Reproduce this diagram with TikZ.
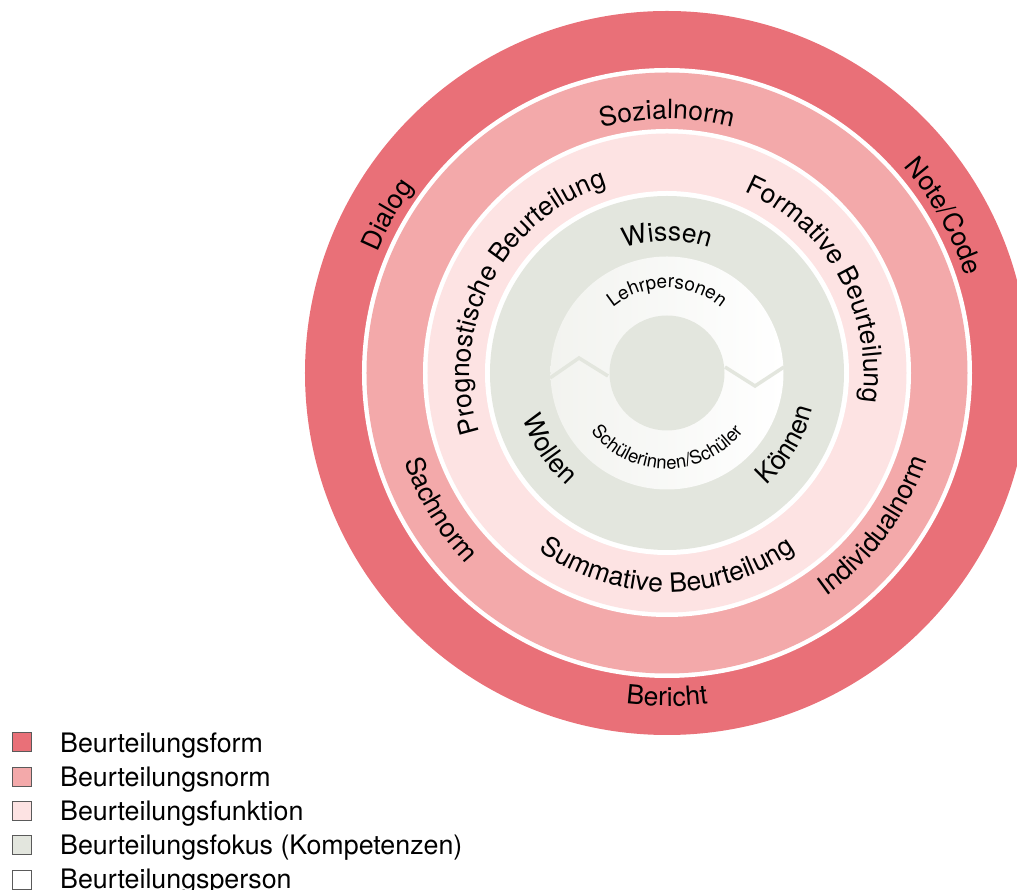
\documentclass[tikz,border=0pt]{standalone}
\usepackage{fontspec}
\setmainfont{TeX Gyre Heros}
\usetikzlibrary{decorations.text}
\definecolor{cform}{HTML}{E97078}
\definecolor{cnorm}{HTML}{F3A9AA}
\definecolor{cfunc}{HTML}{FDE3E3}
\definecolor{cfocus}{HTML}{E3E6DE}
\definecolor{cpersl}{HTML}{F2F3EF}
\definecolor{cbox}{HTML}{5A5A5A}
\newcommand\cwtext[4]{\pgfmathsetmacro\myArcS{#2+80}\pgfmathsetmacro\myArcE{#2-80}%
 \path[decorate,decoration={text along path,text align=center,text={|\fontsize{#3}{#3}\selectfont|#4}}] (\myArcS:#1) arc[start angle=\myArcS,end angle=\myArcE,radius=#1];}
\newcommand\ccwtext[4]{\pgfmathsetmacro\myArcS{#2-80}\pgfmathsetmacro\myArcE{#2+80}%
 \path[decorate,decoration={text along path,text align=center,text={|\fontsize{#3}{#3}\selectfont|#4}}] (\myArcS:#1) arc[start angle=\myArcS,end angle=\myArcE,radius=#1];}
\begin{document}
\begin{tikzpicture}[x=1pt,y=1pt,
  legbox/.style={draw=cbox,line width=0.8pt,minimum width=19pt,minimum height=19pt,inner sep=0pt},
  legtext/.style={anchor=base west,inner sep=0pt,font=\fontsize{26.8}{30}\selectfont},
  zig/.style={draw=cfocus,line width=3.5pt,line join=miter}]
\useasboundingbox (-667,-517) rectangle (350,373);
\clip (-667,-517) rectangle (350,373);
% rings
\fill[cform] (0,0) circle[radius=362];
\fill[white] (0,0) circle[radius=305];
\fill[cnorm] (0,0) circle[radius=300.5];
\fill[white] (0,0) circle[radius=244];
\fill[cfunc] (0,0) circle[radius=239.5];
\fill[white] (0,0) circle[radius=182];
\fill[cfocus] (0,0) circle[radius=177];
\shade[left color=cpersl,right color=white] (0,0) circle[radius=116.5];
\fill[cfocus] (0,0) circle[radius=57.5];
% zigzag separators
\coordinate (zl1) at (-117,-5);
\coordinate (zl2) at (-88,15);
\coordinate (zl3) at (-59,-3);
\coordinate (zr1) at (58,6);
\coordinate (zr2) at (88,-13);
\coordinate (zr3) at (117,6);
\draw[zig] (zl1) -- (zl2) -- (zl3);
\draw[zig] (zr1) -- (zr2) -- (zr3);
% labels: Beurteilungsform
\cwtext{314}{150.5}{26.5}{Dialog}
\cwtext{314}{29.5}{26.5}{Note/Code}
\ccwtext{333}{270}{26.5}{Bericht}
% Beurteilungsnorm
\cwtext{254}{90}{26.5}{Sozialnorm}
\ccwtext{277}{211}{26.5}{Sachnorm}
\ccwtext{274}{323.5}{26.5}{Individualnorm}
% Beurteilungsfunktion
\cwtext{197}{152.7}{26.5}{Prognostische Beurteilung}
\cwtext{197}{29.2}{26.5}{Formative Beurteilung}
\ccwtext{219}{270}{26.5}{Summative Beurteilung}
% Beurteilungsfokus
\cwtext{132}{90}{26.5}{Wissen}
\ccwtext{151}{213}{26.5}{Wollen}
\ccwtext{150}{329}{26.5}{Können}
% Beurteilungsperson
\cwtext{85}{90}{19}{Lehrpersonen}
\ccwtext{96}{270}{18.5}{Schülerinnen/Schüler}
% legend
\node[legbox,fill=cform] (b1) at (-645,-369) {};
\node[legbox,fill=cnorm] (b2) at (-645,-404) {};
\node[legbox,fill=cfunc] (b3) at (-645,-438) {};
\node[legbox,fill=cfocus] (b4) at (-645,-472) {};
\node[legbox,fill=white] (b5) at (-645,-507) {};
\node[legtext] (t1) at (-607,-379.5) {Beurteilungsform};
\node[legtext] (t2) at (-607,-413.5) {Beurteilungsnorm};
\node[legtext] (t3) at (-607,-447.5) {Beurteilungsfunktion};
\node[legtext] (t4) at (-607,-481.5) {Beurteilungsfokus (Kompetenzen)};
\node[legtext] (t5) at (-607,-515.5) {Beurteilungsperson};
\end{tikzpicture}
\end{document}
